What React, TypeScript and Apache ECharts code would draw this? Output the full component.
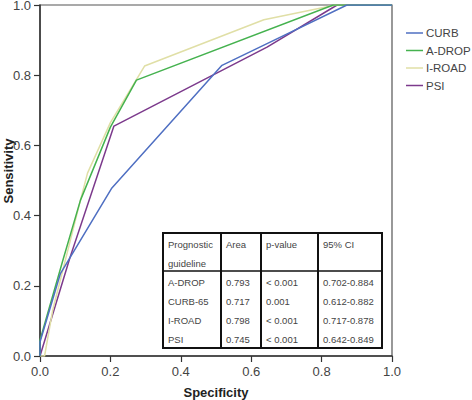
import React, { useEffect, useRef } from "react";
import * as echarts from "echarts";

const seriesNames = ["CURB", "A-DROP", "I-ROAD", "PSI"];
const seriesColors = ["#4f6fc2", "#45b24f", "#e0dfa6", "#7c3a8c"];

const curbPoints: number[][] = [[0, 0], [0, 0.04], [0.058, 0.235], [0.203, 0.477], [0.517, 0.828], [0.645, 0.89], [0.872, 1], [1, 1]];
const adropPoints: number[][] = [[0, 0], [0, 0.045], [0.065, 0.273], [0.115, 0.444], [0.2, 0.652], [0.274, 0.786], [0.833, 1], [1, 1]];
const iroadPoints: number[][] = [[0, 0], [0.013, 0], [0.036, 0.13], [0.115, 0.444], [0.135, 0.521], [0.2, 0.665], [0.297, 0.826], [0.636, 0.958], [0.84, 1], [1, 1]];
const psiPoints: number[][] = [[0, 0], [0.085, 0.28], [0.21, 0.655], [0.645, 0.88], [0.844, 1], [1, 1]];
const seriesPoints = [curbPoints, adropPoints, iroadPoints, psiPoints];

const xAxisTitle = "Specificity";
const yAxisTitle = "Sensitivity";

const tableHeader = ["Prognostic\nguideline", "Area", "p-value", "95% CI"];
const tableGuidelines = ["A-DROP", "CURB-65", "I-ROAD", "PSI"];
const tableAreas = ["0.793", "0.717", "0.798", "0.745"];
const tablePValues = ["< 0.001", "0.001", "< 0.001", "< 0.001"];
const tableCIs = ["0.702-0.884", "0.612-0.882", "0.717-0.878", "0.642-0.849"];

const FONT = "'Liberation Sans', Arial, sans-serif";

export default function App() {
  const ref = useRef<HTMLDivElement>(null);
  useEffect(() => {
    if (!ref.current) return;
    const chart = echarts.init(ref.current, undefined, { renderer: "svg" });

    // table layout
    const tL = 163, tT = 233, tR = 382, tB = 348, hB = 271;
    const colX = [163, 221, 261, 318];
    const rowY = [282, 301, 320, 339];
    const textStyle = { fill: "#444", fontSize: 9.5, fontFamily: FONT };
    const titleStyle = { fill: "#222", fontSize: 13, fontWeight: "bold", fontFamily: FONT, align: "center", verticalAlign: "middle" };
    const graphics: any[] = [
      { type: "text", x: 216, y: 392, style: { ...titleStyle, text: xAxisTitle } },
      { type: "text", x: 8, y: 171, rotation: Math.PI / 2, style: { ...titleStyle, text: yAxisTitle } },
      { type: "rect", shape: { x: tL, y: tT, width: tR - tL, height: tB - tT }, style: { fill: "#fff", stroke: "#111", lineWidth: 2 }, z: 100 },
      { type: "line", shape: { x1: tL, y1: hB, x2: tR, y2: hB }, style: { stroke: "#111", lineWidth: 1.5 }, z: 101 },
    ];
    colX.slice(1).forEach((x) => {
      graphics.push({ type: "line", shape: { x1: x, y1: tT, x2: x, y2: tB }, style: { stroke: "#111", lineWidth: 2 }, z: 101 });
    });
    tableHeader.forEach((h, i) => {
      graphics.push({ type: "text", x: colX[i] + 5, y: 234.5, style: { ...textStyle, text: h, lineHeight: 19, verticalAlign: "top" }, z: 102 });
    });
    const cols = [tableGuidelines, tableAreas, tablePValues, tableCIs];
    cols.forEach((col, ci) => {
      col.forEach((v, ri) => {
        graphics.push({ type: "text", x: colX[ci] + 5, y: rowY[ri], style: { ...textStyle, text: v, verticalAlign: "middle" }, z: 102 });
      });
    });

    const axisLabel = { color: "#444", fontSize: 13, fontFamily: FONT, formatter: (v: number) => v.toFixed(1) };

    chart.setOption({
      animation: false,
      backgroundColor: "#fff",
      grid: { left: 40, top: 5, right: 80, bottom: 44, show: true, borderColor: "#555", borderWidth: 1.2, backgroundColor: "transparent", containLabel: false, outerBoundsMode: "none" },
      legend: {
        orient: "vertical",
        left: 406,
        top: 26,
        padding: 0,
        icon: "rect",
        itemWidth: 17,
        itemHeight: 1.5,
        itemGap: 3.5,
        textStyle: { color: "#444", fontSize: 11.5, fontFamily: FONT, lineHeight: 14, padding: [0, 0, 0, -2] },
        data: seriesNames,
      },
      xAxis: {
        type: "value", min: 0, max: 1, interval: 0.2,
        axisLine: { show: true, lineStyle: { color: "#333", width: 1.5 } },
        axisTick: { show: true, length: 6, lineStyle: { color: "#333", width: 1.2 } },
        axisLabel: { ...axisLabel, margin: 9 },
        splitLine: { show: false },
      },
      yAxis: {
        type: "value", min: 0, max: 1, interval: 0.2,
        axisLine: { show: true, lineStyle: { color: "#333", width: 1.5 } },
        axisTick: { show: true, length: 6, lineStyle: { color: "#333", width: 1.2 } },
        axisLabel: { ...axisLabel, margin: 9 },
        splitLine: { show: false },
      },
      series: seriesNames.map((name, i) => ({
        name,
        type: "line",
        data: seriesPoints[i],
        showSymbol: false,
        symbol: "none",
        color: seriesColors[i],
        lineStyle: { color: seriesColors[i], width: 1.5 },
        z: 2 + (3 - i),
      })),
      graphic: graphics,
    });
    return () => chart.dispose();
  }, []);
  return <div ref={ref} style={{ width: 472, height: 400, position: "absolute", left: 0, top: 0 }} />;
}
